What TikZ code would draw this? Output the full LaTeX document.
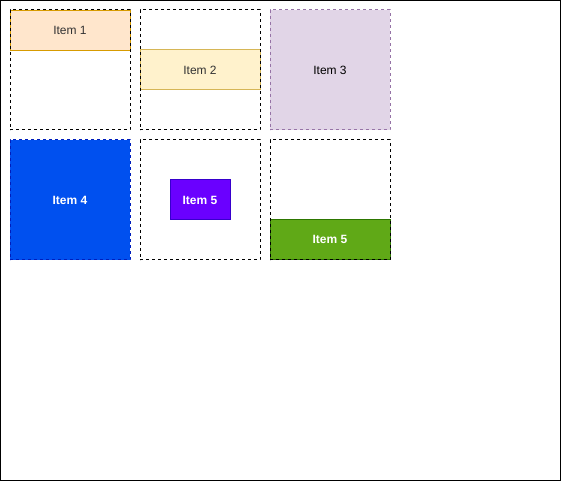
\documentclass[tikz,border=0pt]{standalone}
\usepackage{fontspec}
\setmainfont{Liberation Sans}
\definecolor{orangefill}{HTML}{FFE6CC}
\definecolor{orangeline}{HTML}{D79B00}
\definecolor{yellowfill}{HTML}{FFF2CC}
\definecolor{yellowline}{HTML}{D6B656}
\definecolor{purplefill}{HTML}{E1D5E7}
\definecolor{purpleline}{HTML}{9673A6}
\definecolor{bluefill}{HTML}{0050EF}
\definecolor{blueline}{HTML}{001DBC}
\definecolor{violetfill}{HTML}{6A00FF}
\definecolor{violetline}{HTML}{3700CC}
\definecolor{greenfill}{HTML}{60A917}
\definecolor{greenline}{HTML}{2D7600}
\definecolor{greytext}{HTML}{333333}
\begin{document}
\begin{tikzpicture}[x=0.75pt,y=-0.75pt,line width=0.75pt,
    cell/.style={draw=black,dash pattern=on 2.25pt off 2.25pt,minimum width=90pt,minimum height=90pt,inner sep=0pt},
    item/.style={minimum width=90pt,minimum height=30pt,inner sep=0pt,font=\fontsize{9}{11}\selectfont},
    whitebold/.style={text=white,font=\fontsize{9}{11}\selectfont\bfseries}]
    \useasboundingbox (0,0) rectangle (561,481);
    \draw (0.5,0.5) rectangle (560.5,480.5);
    % placeholders for the grid
    \coordinate (c1) at (70,70);
    \coordinate (c2) at (200,70);
    \coordinate (c3) at (330,70);
    \coordinate (c4) at (70,200);
    \coordinate (c5) at (200,200);
    \coordinate (c6) at (330,200);
    % items
    \node[item,fill=orangefill,draw=orangeline,text=greytext,anchor=north] (item1) at (70,10) {Item 1};
    \node[item,fill=yellowfill,draw=yellowline,text=greytext] (item2) at (c2) {Item 2};
    \node[item,minimum height=90pt,fill=purplefill,draw=purpleline,dash pattern=on 2.25pt off 2.25pt] (item3) at (c3) {Item 3};
    \node[item,minimum height=90pt,fill=bluefill,draw=blueline,dash pattern=on 2.25pt off 2.25pt,whitebold] (item4) at (c4) {Item 4};
    \node[item,minimum width=45pt,fill=violetfill,draw=violetline,whitebold] (item5) at (c5) {Item 5};
    \node[item,fill=greenfill,draw=greenline,whitebold,anchor=south] (item6) at (330,260) {Item 5};
    % cells
    \node[cell] (cell1) at (c1) {};
    \node[cell] (cell2) at (c2) {};
    \node[cell] (cell5) at (c5) {};
    \node[cell] (cell6) at (c6) {};
\end{tikzpicture}
\end{document}
